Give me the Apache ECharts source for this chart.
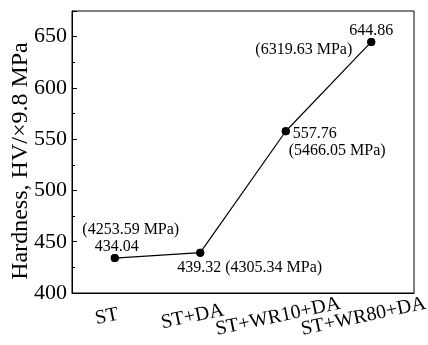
<!DOCTYPE html>
<html>
<head>
<meta charset="utf-8">
<script src="https://cdn.jsdelivr.net/npm/echarts@6/dist/echarts.min.js"></script>
<style>
  html, body { margin: 0; padding: 0; background: #fff; }
  #chart { width: 428px; height: 345px; }
</style>
</head>
<body>
<div id="chart"></div>
<script>
const categories = ['ST', 'ST+DA', 'ST+WR10+DA', 'ST+WR80+DA']
const hardness = [434.04, 439.32, 557.76, 644.86]
const mpa = ['(4253.59 MPa)', '(4305.34 MPa)', '(5466.05 MPa)', '(6319.63 MPa)']

// where each label sits relative to its point
const hvLabelPos = [
  { align: 'center', offset: [2, -11] },
  { align: 'left', offset: [-23, 15] },
  { align: 'left', offset: [7, 3] },
  { align: 'center', offset: [0, -11] },
]
const mpaLabelPos = [
  { align: 'center', offset: [16, -28] },
  { align: 'left', offset: [25, 15] },
  { align: 'left', offset: [3, 20] },
  { align: 'right', offset: [-19, 8] },
]

const font = 'Liberation Serif'
const chart = echarts.init(document.getElementById('chart'))

const pointLabel = {
  show: true,
  position: 'inside',
  verticalAlign: 'middle',
  color: '#000',
  textBorderWidth: 0,
  fontFamily: font,
  fontSize: 16,
}

chart.setOption({
  animation: false,
  grid: {
    left: 72,
    right: 14,
    top: 11,
    bottom: 52,
    outerBoundsMode: 'none',
    show: true,
    borderColor: '#000',
    borderWidth: 1,
  },
  xAxis: {
    type: 'category',
    data: categories,
    axisLine: { lineStyle: { color: '#000', width: 1 } },
    axisTick: { alignWithLabel: true, inside: true, length: 5, lineStyle: { color: '#000' } },
    axisLabel: {
      rotate: 12,
      align: 'center',
      verticalAlign: 'middle',
      margin: 22,
      padding: [0, 16, 0, 0],
      color: '#000',
      fontFamily: font,
      fontSize: 20,
      interval: 0,
    },
  },
  yAxis: {
    type: 'value',
    min: 400,
    max: 675,
    interval: 50,
    name: 'Hardness, HV/×9.8 MPa',
    nameLocation: 'middle',
    nameGap: 39,
    nameMoveOverlap: false,
    nameTextStyle: { color: '#000', fontFamily: font, fontSize: 24, padding: [0, 0, 0, -18] },
    axisLine: { show: true, lineStyle: { color: '#000', width: 1 } },
    axisTick: { show: true, inside: true, length: 5, lineStyle: { color: '#000' } },
    minorTick: { show: true, splitNumber: 2, length: 3, lineStyle: { color: '#000' } },
    splitLine: { show: false },
    axisLabel: {
      color: '#000',
      fontFamily: font,
      fontSize: 22,
      margin: 5,
      showMaxLabel: false,
    },
  },
  series: [
    {
      type: 'line',
      data: hardness.map((v, i) => ({
        value: v,
        label: hvLabelPos[i],
      })),
      symbol: 'circle',
      symbolSize: 8,
      itemStyle: { color: '#000' },
      lineStyle: { color: '#000', width: 1.2 },
      label: {
        ...pointLabel,
        formatter: (p) => p.value.toFixed(2),
      },
      z: 3,
    },
    {
      // same points again, only to carry the MPa labels
      type: 'line',
      data: hardness.map((v, i) => ({
        value: v,
        label: mpaLabelPos[i],
      })),
      symbol: 'circle',
      symbolSize: 8,
      itemStyle: { color: '#000' },
      lineStyle: { width: 0, opacity: 0 },
      label: {
        ...pointLabel,
        formatter: (p) => mpa[p.dataIndex],
      },
      z: 2,
    },
  ],
})
</script>
</body>
</html>
